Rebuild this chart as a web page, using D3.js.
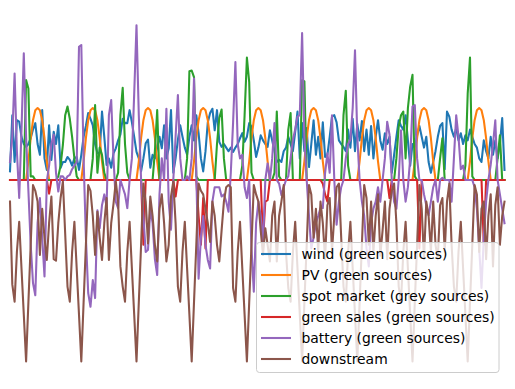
<!DOCTYPE html>
<html><head><meta charset="utf-8">
<script src="https://cdn.jsdelivr.net/npm/d3@7"></script>
<style>html,body{margin:0;padding:0;background:#fff;}</style>
</head><body>
<svg id="chart" width="515" height="389"></svg>
<script>
const seriesNames = ["wind (green sources)","PV (green sources)","spot market (grey sources)","green sales (green sources)","battery (green sources)","downstream"];
const colors = ["#1f77b4","#ff7f0e","#2ca02c","#d62728","#9467bd","#8c564b"];

const wind = [
0.12,0.9,0.25,0.83,0.81,0.6,0.5,0.46,0.5,0.58,0.7,0.79,0.5,0.35,0.97,0.3,0.14,0.76,0.28,0.67,0.5,0.76,0.17,0.25,
0.25,0.32,0.28,0.2,0.3,0.32,0.14,0.35,0.6,0.75,0.93,0.85,0.76,0.5,0.37,0.38,0.95,0.6,0.21,0.3,0.17,0.37,0.44,0.55,
0.63,0.85,0.79,0.79,0.97,0.8,0.6,0.39,0.3,0.12,0.3,0.51,0.56,0.17,0.35,0.3,0.45,0.6,0.44,0.76,0.3,0.44,0.97,0.1,
0.3,0.56,0.76,0.6,0.45,0.35,0.6,0.76,0.55,0.9,0.65,0.3,0.12,0.4,0.8,0.93,0.99,0.69,0.97,0.53,0.46,0.5,0.45,0.4,
0.45,0.39,0.45,0.5,0.58,0.65,0.53,0.6,0.79,0.74,0.55,0.32,0.45,0.62,0.55,0.5,0.46,0.69,0.55,0.4,0.25,0.28,0.25,0.4,
0.45,0.6,0.5,0.4,0.67,0.95,0.3,0.79,0.4,0.72,0.18,0.5,0.83,0.35,0.6,0.3,0.8,0.32,0.35,0.6,0.88,0.9,0.8,0.55,
0.5,0.46,0.4,0.7,0.45,0.85,0.4,0.78,0.55,0.82,0.4,0.7,0.35,0.75,0.3,0.6,0.83,0.55,0.42,0.65,0.5,0.6,0.1,0.35,
0.6,0.83,0.75,0.7,0.9,0.55,0.2,0.5,0.45,0.62,0.75,0.6,0.45,0.6,0.25,0.1,0.25,0.4,0.6,0.75,0.79,0.15,0.95,0.88,
0.7,0.6,0.72,0.55,0.65,0.5,0.62,0.55,0.7,0.6,0.5,0.45,0.3,0.25,0.55,0.4,0.3,0.6,0.35,0.55,0.3,0.5,0.86,0.14];

const pv = [
0,0,0,0,0,0,0,0,0.26,0.58,0.83,0.97,1,0.97,0.83,0.58,0.26,0,0,0,0,0,0,0,
0,0,0,0,0,0,0,0,0.26,0.58,0.83,0.97,1,0.97,0.83,0.58,0.26,0,0,0,0,0,0,0,
0,0,0,0,0,0,0,0,0.26,0.58,0.83,0.97,1,0.97,0.83,0.58,0.26,0,0,0,0,0,0,0,
0,0,0,0,0,0,0,0,0.26,0.58,0.83,0.97,1,0.97,0.83,0.58,0.26,0,0,0,0,0,0,0,
0,0,0,0,0,0,0,0,0.26,0.58,0.83,0.97,1,0.97,0.83,0.58,0.26,0,0,0,0,0,0,0,
0,0,0,0,0,0,0,0,0.26,0.58,0.83,0.97,1,0.97,0.83,0.58,0.26,0,0,0,0,0,0,0,
0,0,0,0,0,0,0,0,0.26,0.58,0.83,0.97,1,0.97,0.83,0.58,0.26,0,0,0,0,0,0,0,
0,0,0,0,0,0,0,0,0.26,0.58,0.83,0.97,1,0.97,0.83,0.58,0.26,0,0,0,0,0,0,0,
0,0,0,0,0,0,0,0,0.26,0.58,0.83,0.97,1,0.97,0.83,0.58,0.26,0,0,0,0,0,0,0];

const spotMarket = [
0,0,0,0,0,0,0,1.39,1.27,0.05,0.05,0,0,0,0,0,0,0,0,0,0,0.05,0.2,0.49,
0.9,1.02,0.85,0.6,0.3,0.05,0,0,0,0,0,0,0.3,1.04,0.1,0.45,0.35,0.1,0,0,0,0,0,0.1,
0.9,1.28,0.5,0.1,0,0,0,0,0,0,0,0,0,0,0,0.4,0.97,0,0,0,0,0,0,0,
0,0,0,0,0,0.3,1.51,1.52,1.43,0.05,0,0,0,0,0,0,0,0,0.5,0.86,0.98,0.3,0,0,
0,0,0,0,0,0.2,0.9,1.7,1.36,0.1,0,0,0,0,0,0,0,0,0,0.1,0.95,0.05,0,0,
0,0.7,0.93,0,0,0,0,1.39,1.37,0,0,0,0,0,0,0,0,0,0,0,0,0,0,0,
0,0.9,1.24,0.2,0,0,0,0,0,0,0,0,0,0,0,0,0,0,0,0,0,0,0,0,
0.3,0.74,0.9,0.95,0.3,1.0,1.3,1.46,0.05,0,0,0,0,0,0,0,0,0,0,0.3,0.58,0,0,0,
0,0,0,0,0,0,0.2,1.2,1.7,0.05,0,0,0,0,0,0,0,0,0,0,0.3,0.62,0,0];

const greenSales = [
0,0,0,0,0,0,0,0,0,0,0,0,0,0,0,0,0,-0.19,0,0,0,0,0,0,
0,0,0,0,0,0,0,0,0,0,0,0,0,0,0,0,0,0,0,0,0,0,0,0,
0,0,0,0,0,0,0,0,0,0,-0.9,0,0,0,0,0,0,0,0,0,0,0,0,0,
-0.23,0,0,0,0,0,0,0,0,0,-0.5,-0.9,-0.25,-0.95,0,0,0,0,0,0,0,0,0,0,
0,0,0,0,0,0,0,0,0,0,0,0,0,0,-0.85,-0.3,-0.28,0,0,0,0,0,0,0,
0,0,0,0,0,0,0,0,0,0,0,0,0,0,0,0,-0.05,-0.2,-0.3,0,0,0,0,0,
0,0,0,0,0,0,0,0,0,0,0,0,0,0,0,0,0,0,0,0,0,-0.25,0,0,
0,0,0,0,0,0,0,0,0,0,-0.95,0,0,0,0,0,0,0,0,0,0,0,0,0,
0,0,0,0,0,0,0,0,0,0,0,0,0,0,-0.9,0,0,0,0,0,0,0,0,0];

const battery = [
0.25,0.6,1.48,0.4,-0.25,0.7,1.76,0.6,-0.15,-0.9,-1.43,-1.6,-0.6,-0.25,-0.8,-1.34,-0.02,0.2,0.5,0.63,0.1,-0.16,0.05,0.05,
0.0,0.05,0.07,0.15,0.2,0.25,1.85,1.875,0.3,-0.8,-1.57,-1.76,-1.39,-1.64,-0.42,-0.67,-0.35,-0.2,-0.37,0.9,1.11,0.3,-0.3,-0.39,
0.0,-0.1,-0.2,-0.39,0.0,0.3,1.2,2.15,0.9,0.0,-0.5,-1.0,-0.97,-0.4,-0.6,-1.1,-1.32,-0.2,0.3,0.0,0.99,-0.3,-0.69,0.0,
0.6,1.18,0.3,0.0,0.0,0.05,0.0,0.3,1.41,0.1,-1.37,-0.8,-0.5,-0.9,-1.11,-1.23,-0.3,-0.1,-0.1,-0.1,-0.23,-0.2,-0.3,-0.44,
0.1,0.8,1.64,0.5,0.3,0.35,-0.1,-0.25,0.0,-0.95,-1.55,-0.6,-0.3,-0.5,-0.9,0.0,0.23,0.0,0.3,0.79,0.0,-0.05,-0.21,-0.1,
0.0,0.05,0.3,0.56,0.7,0.88,0.9,2.04,0.6,0.0,-0.5,-0.95,-0.8,-0.6,-0.5,-0.39,-0.39,0.1,0.37,0.1,0.9,0.0,-0.62,-0.3,
-0.1,0.0,0.3,0.5,0.56,1.0,1.8,0.6,0.0,-0.3,-0.5,-0.95,-1.2,-0.6,-0.4,-0.3,-0.1,-0.3,0.0,0.3,0.81,0.63,0.0,-0.3,
-0.4,0.0,0.69,0.0,-0.3,-0.1,0.3,1.02,1.04,0.3,0.0,0.0,-0.2,-0.35,-0.49,-0.3,-0.1,0.0,-0.3,0.0,0.03,0.0,0.0,0.0,
-0.3,0.3,0.9,0.6,0.15,0.2,0.0,0.0,0.0,0.0,-0.1,-0.4,-0.95,-1.5,-0.8,-0.3,0.0,0.21,0.5,0.83,0.0,-0.2,-0.4,-0.6];

const downstream = [
-0.3,-1.45,-1.69,-1.0,-0.58,-1.23,-1.87,-2.52,-1.7,-0.9,-0.07,-0.15,-0.3,-1.04,-0.4,-0.8,-1.11,-0.6,-0.23,-1.1,-1.12,-0.6,-0.25,-0.02,
-0.75,-1.48,-1.69,-1.0,-0.58,-1.23,-1.87,-2.52,-1.7,-0.9,-0.07,-0.15,-0.5,-1.04,-0.44,-0.8,-1.11,-0.6,-0.25,-1.11,-0.6,-0.33,-0.02,-0.3,
-1.2,-1.48,-1.69,-1.0,-0.58,-1.23,-1.87,-2.52,-1.7,-0.9,-0.05,-0.3,-0.88,-0.23,-0.5,-0.9,-1.13,-0.4,-0.2,-0.6,-1.13,-0.9,-0.23,-0.02,
-0.6,-1.48,-1.69,-1.0,-0.58,-1.23,-1.87,-2.52,-1.7,-0.9,-0.05,-0.15,-0.2,-0.4,-0.6,-0.86,-0.3,-0.5,-0.9,-1.13,-0.7,-0.3,-0.1,-0.07,
-0.1,-1.5,-1.69,-1.0,-0.58,-1.23,-1.87,-2.52,-1.7,-0.9,-0.07,-0.2,-0.3,-0.7,-1.04,-0.67,-0.9,-1.13,-0.5,-0.3,-1.13,-0.5,-0.3,-0.07,
-1.0,-1.5,-1.69,-1.0,-0.58,-1.23,-1.87,-2.52,-1.7,-0.9,-0.07,-0.2,-0.8,-0.4,-1.0,-0.3,-0.6,-1.1,-0.35,-0.25,-1.0,-0.5,-0.1,-0.05,
-0.8,-1.48,-1.69,-1.0,-0.58,-1.23,-1.87,-2.52,-1.7,-0.9,-0.07,-0.25,-0.9,-0.3,-1.0,-0.5,-0.2,-1.05,-0.7,-0.3,-1.1,-0.4,-0.15,-0.05,
-0.6,-1.48,-1.69,-1.0,-0.58,-1.23,-1.87,-2.52,-1.7,-0.9,-0.07,-0.4,-1.1,-0.3,-0.5,-1.0,-0.3,-0.9,-1.1,-0.35,-0.25,-1.0,-0.3,-0.05,
-0.9,-1.48,-1.69,-1.0,-0.58,-1.23,-1.87,-2.52,-1.7,-0.9,-0.07,-0.2,-1.0,-0.4,-0.3,-1.1,-0.5,-0.2,-1.2,-0.35,-0.1,-0.9,-0.5,-0.3];

const allSeries = [wind, pv, spotMarket, greenSales, battery, downstream];

const svg = d3.select("#chart");
const x = d3.scaleLinear().domain([0, wind.length - 1]).range([10, 504.5]);
const y = d3.scaleLinear().domain([-2.6, 2.2]).range([367.2, 21.6]);

const line = d3.line().x((d, i) => x(i)).y(d => y(d));

allSeries.forEach((s, k) => {
  svg.append("path")
    .datum(s)
    .attr("d", line)
    .attr("fill", "none")
    .attr("stroke", colors[k])
    .attr("stroke-width", 2.08)
    .attr("stroke-linejoin", "round")
    .attr("stroke-linecap", "square");
});

// legend
const lg = svg.append("g");
lg.append("rect")
  .attr("x", 256.5).attr("y", 242.5).attr("width", 242.5).attr("height", 130)
  .attr("rx", 3).attr("ry", 3)
  .attr("fill", "#ffffff").attr("fill-opacity", 0.8)
  .attr("stroke", "#cccccc").attr("stroke-width", 1);
seriesNames.forEach((name, k) => {
  const cy = 254 + k * 21;
  lg.append("line")
    .attr("x1", 261).attr("x2", 291).attr("y1", cy).attr("y2", cy)
    .attr("stroke", colors[k]).attr("stroke-width", 2.08);
  lg.append("text")
    .attr("x", 301.5).attr("y", cy)
    .attr("dy", "0.36em")
    .attr("font-family", "DejaVu Sans")
    .attr("font-size", "13.9px")
    .attr("fill", "#000")
    .text(name);
});
</script>
</body></html>
